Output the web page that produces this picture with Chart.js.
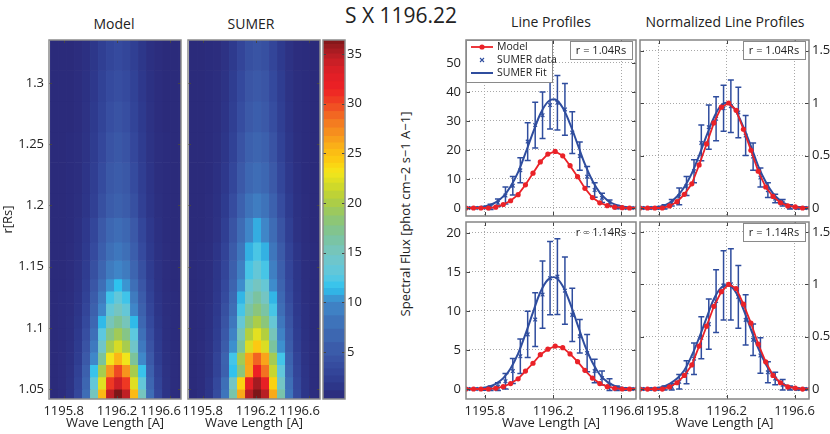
<!DOCTYPE html>
<html><head><meta charset="utf-8">
<script src="https://cdn.jsdelivr.net/npm/chart.js@4.4.0/dist/chart.umd.min.js"></script>
<style>
html,body{margin:0;padding:0;background:#fff;}
body{width:830px;height:434px;position:relative;overflow:hidden;font-family:'Open Sans',sans-serif;color:#222;}
canvas{position:absolute;left:0;top:0;}
.lbl{position:absolute;transform:translate(-50%,-50%);white-space:nowrap;line-height:1;}
</style></head><body>
<div class="lbl" style="left:401px;top:15px;font-size:21px;">S X 1196.22</div>
<div class="lbl" style="left:114px;top:24px;font-size:14px;">Model</div>
<div class="lbl" style="left:251px;top:24px;font-size:14px;">SUMER</div>
<div class="lbl" style="left:551px;top:22px;font-size:14px;">Line Profiles</div>
<div class="lbl" style="left:725px;top:22px;font-size:14px;">Normalized Line Profiles</div>
<div class="lbl" style="left:405px;top:214px;font-size:13px;transform:translate(-50%,-50%) rotate(-90deg);">Spectral Flux [phot cm−2 s−1 A−1]</div>
<canvas id="cModel" width="830" height="434"></canvas>
<canvas id="cSumer" width="830" height="434"></canvas>
<canvas id="cBar" width="830" height="434"></canvas>
<canvas id="cP1" width="830" height="434"></canvas>
<canvas id="cP2" width="830" height="434"></canvas>
<canvas id="cP3" width="830" height="434"></canvas>
<canvas id="cP4" width="830" height="434"></canvas>
<script>
// ---------------- DATA ----------------
const wavelengths = [1195.690,1195.734,1195.777,1195.821,1195.864,1195.908,1195.951,1195.995,1196.038,1196.082,1196.125,1196.169,1196.212,1196.256,1196.299,1196.343,1196.386,1196.430,1196.473,1196.517,1196.560,1196.604,1196.647,1196.691];
const sumerWavelengths = [1195.703,1195.747,1195.790,1195.834,1195.877,1195.921,1195.964,1196.008,1196.051,1196.095,1196.138,1196.182,1196.225,1196.269,1196.312,1196.356,1196.399,1196.443,1196.486,1196.530,1196.573,1196.617,1196.660,1196.704];

// r = 1.04 Rs
const model104 = [0,0,0,0,0.3,1.2,2.5,4.6,8.0,12.0,15.9,18.6,19.5,18.0,14.6,10.8,6.8,3.6,1.8,0.8,0.3,0.1,0,0];
const sumer104 = [0,0,0.1,0.4,1.8,4.3,7.7,13.0,22.9,28.6,32.0,35.5,36.3,34.0,26.0,17.9,10.8,6.2,3.5,1.8,0.3,0,0,0];
const sumerErr104 = [0.2,0.2,0.3,0.9,1.3,2.9,3.2,4.3,6.5,7.9,8.0,8.3,9.4,8.9,7.2,4.9,3.5,2.5,1.6,1.0,0.6,0.3,0.2,0.2];
const fit104 = [0.04,0.13,0.34,0.86,1.95,3.99,7.4,12.4,18.9,26.0,32.4,36.6,37.4,34.6,29.0,22.0,15.1,9.4,5.3,2.7,1.25,0.52,0.2,0.07];

// r = 1.14 Rs
const model114 = [0,0,0,0,0.1,0.3,0.7,1.3,2.3,3.3,4.4,5.1,5.5,5.3,4.5,3.5,2.4,1.4,0.7,0.3,0.1,0,0,0];
const sumer114 = [0,0,0,0.1,0.3,1.0,2.3,4.2,7.0,8.9,12.1,14.2,14.4,12.6,9.5,6.75,4.6,2.3,1.4,0.55,0.1,0,0,0];
const sumerErr114 = [0.1,0.1,0.15,0.3,0.5,1.0,1.6,2.2,2.95,3.45,4.3,4.7,4.85,4.3,3.4,2.15,2.4,1.5,0.9,0.75,0.3,0.15,0.1,0.1];
const fit114 = [0.01,0.04,0.11,0.28,0.66,1.39,2.64,4.54,7.03,9.81,12.4,14.0,14.3,13.2,11.0,8.25,5.57,3.4,1.86,0.92,0.41,0.17,0.06,0.02];

// normalized profiles
const normModel104 = [0,0,0,0,0.02,0.06,0.13,0.23,0.41,0.61,0.81,0.96,1.0,0.93,0.75,0.55,0.35,0.2,0.11,0.05,0.02,0.01,0,0];
const normSumer104 = [0,0,0,0.01,0.05,0.11,0.21,0.35,0.62,0.77,0.85,0.95,0.97,0.91,0.69,0.49,0.29,0.17,0.09,0.05,0.01,0,0,0];
const normErr104 = [0.01,0.01,0.01,0.02,0.03,0.08,0.09,0.11,0.17,0.21,0.21,0.22,0.25,0.24,0.19,0.13,0.09,0.07,0.04,0.03,0.02,0.01,0.01,0.01];
const normFit104 = [0,0,0.01,0.02,0.05,0.11,0.2,0.33,0.5,0.69,0.86,0.98,1.0,0.92,0.77,0.59,0.4,0.25,0.14,0.07,0.03,0.01,0.01,0];
const normModel114 = [0,0,0,0,0.02,0.06,0.13,0.23,0.41,0.6,0.79,0.93,1.0,0.96,0.81,0.63,0.43,0.26,0.13,0.06,0.02,0.01,0,0];
const normSumer114 = [0,0,0,0.01,0.02,0.07,0.16,0.29,0.49,0.62,0.84,0.99,1.0,0.88,0.66,0.47,0.32,0.16,0.1,0.04,0.01,0,0,0];
const normErr114 = [0.01,0.01,0.01,0.02,0.03,0.07,0.11,0.15,0.2,0.24,0.3,0.33,0.34,0.3,0.24,0.15,0.17,0.1,0.06,0.05,0.02,0.01,0.01,0.01];
const normFit114 = [0,0,0.01,0.02,0.05,0.1,0.18,0.32,0.49,0.68,0.86,0.97,0.99,0.92,0.76,0.57,0.39,0.24,0.13,0.06,0.03,0.01,0,0];

// heat maps: cell centres in wavelength, cell edges in r
const heatWl = [1195.73,1195.79,1195.85,1195.91,1195.97,1196.03,1196.09,1196.15,1196.21,1196.27,1196.33,1196.39,1196.45,1196.51,1196.57,1196.63,1196.69];
const heatREdges = [1.04,1.05,1.06,1.07,1.08,1.09,1.10,1.11,1.12,1.13,1.14,1.155,1.17,1.19,1.21,1.235,1.26,1.285,1.31,1.335];
const modelGrid = [
[0.4,0.6,1.3,3.2,7.4,15.0,25.2,34.6,38.4,34.6,25.2,15.0,7.4,3.2,1.3,0.6,0.4],
[0.4,0.6,1.2,2.9,6.6,13.3,22.3,30.5,33.9,30.5,22.3,13.3,6.6,2.9,1.2,0.6,0.4],
[0.4,0.6,1.1,2.6,5.8,11.7,19.7,26.9,29.9,26.9,19.7,11.7,5.8,2.6,1.1,0.6,0.4],
[0.4,0.6,1.0,2.2,5.0,10.0,16.7,22.9,25.4,22.9,16.7,10.0,5.0,2.2,1.0,0.6,0.4],
[0.4,0.5,0.9,2.0,4.3,8.6,14.4,19.7,21.9,19.7,14.4,8.6,4.3,2.0,0.9,0.5,0.4],
[0.4,0.5,0.8,1.8,3.9,7.7,12.8,17.5,19.4,17.5,12.8,7.7,3.9,1.8,0.8,0.5,0.4],
[0.4,0.5,0.8,1.6,3.4,6.7,11.2,15.2,16.9,15.2,11.2,6.7,3.4,1.6,0.8,0.5,0.4],
[0.4,0.5,0.7,1.4,3.0,5.9,9.8,13.4,14.9,13.4,9.8,5.9,3.0,1.4,0.7,0.5,0.4],
[0.4,0.5,0.7,1.3,2.7,5.3,8.7,11.9,13.2,11.9,8.7,5.3,2.7,1.3,0.7,0.5,0.4],
[0.4,0.4,0.6,1.2,2.4,4.6,7.6,10.3,11.4,10.3,7.6,4.6,2.4,1.2,0.6,0.4,0.4],
[0.4,0.4,0.6,1.1,2.1,4.0,6.4,8.7,9.7,8.7,6.4,4.0,2.1,1.1,0.6,0.4,0.4],
[0.4,0.4,0.6,1.0,1.9,3.5,5.6,7.6,8.4,7.6,5.6,3.5,1.9,1.0,0.6,0.4,0.4],
[0.4,0.4,0.5,0.9,1.7,3.1,5.0,6.7,7.4,6.7,5.0,3.1,1.7,0.9,0.5,0.4,0.4],
[0.4,0.4,0.5,0.8,1.4,2.5,4.0,5.3,5.9,5.3,4.0,2.5,1.4,0.8,0.5,0.4,0.4],
[0.4,0.4,0.5,0.7,1.3,2.3,3.6,4.8,5.3,4.8,3.6,2.3,1.3,0.7,0.5,0.4,0.4],
[0.4,0.4,0.5,0.7,1.2,2.1,3.2,4.3,4.8,4.3,3.2,2.1,1.2,0.7,0.5,0.4,0.4],
[0.4,0.4,0.4,0.6,1.1,1.9,2.9,3.9,4.3,3.9,2.9,1.9,1.1,0.6,0.4,0.4,0.4],
[0.4,0.4,0.4,0.6,1.0,1.7,2.7,3.5,3.9,3.5,2.7,1.7,1.0,0.6,0.4,0.4,0.4],
[0.4,0.4,0.4,0.6,0.9,1.6,2.4,3.1,3.5,3.1,2.4,1.6,0.9,0.6,0.4,0.4,0.4]
];
const sumerGrid = [
[0.4,0.7,1.5,3.6,8.2,15.9,25.9,34.8,38.4,34.8,25.9,15.9,8.2,3.6,1.5,0.7,0.4],
[0.4,0.6,1.4,3.3,7.6,14.7,23.9,32.1,35.4,32.1,23.9,14.7,7.6,3.3,1.4,0.6,0.4],
[0.4,0.6,1.2,2.8,6.0,11.5,18.0,26.0,31.4,28.4,21.2,13.1,6.7,3.0,1.3,0.6,0.4],
[0.4,0.6,1.2,2.8,6.2,12.0,19.5,26.2,28.9,26.2,19.5,12.0,6.2,2.8,1.2,0.6,0.4],
[0.4,0.6,1.1,2.4,5.3,10.2,16.5,22.1,24.4,22.1,16.5,10.2,5.3,2.4,1.1,0.6,0.4],
[0.4,0.5,1.0,2.2,4.9,9.4,15.2,20.3,22.4,20.3,15.2,9.4,4.9,2.2,1.0,0.5,0.4],
[0.4,0.5,0.9,2.0,4.4,8.4,13.5,18.0,19.9,18.0,13.5,8.4,4.4,2.0,0.9,0.5,0.4],
[0.4,0.5,0.9,1.8,4.0,7.5,12.1,16.2,17.9,16.2,12.1,7.5,4.0,1.8,0.9,0.5,0.4],
[0.4,0.5,0.8,1.7,3.6,6.9,11.1,14.8,16.4,14.8,11.1,6.9,3.6,1.7,0.8,0.5,0.4],
[0.4,0.5,0.8,1.6,3.3,6.3,10.1,13.5,14.9,13.5,10.1,6.3,3.3,1.6,0.8,0.5,0.4],
[0.4,0.5,0.7,1.5,3.0,5.7,9.1,12.1,13.4,12.1,9.1,5.7,3.0,1.5,0.7,0.5,0.4],
[0.4,0.5,0.7,1.4,2.8,5.2,8.3,11.0,12.2,11.0,8.3,5.2,2.8,1.4,0.7,0.5,0.4],
[0.4,0.4,0.6,1.1,2.4,4.4,7.3,9.8,10.9,9.8,7.3,4.4,2.4,1.1,0.6,0.4,0.4],
[0.4,0.4,0.6,1.0,2.0,3.7,6.0,8.0,8.9,8.0,6.0,3.7,2.0,1.0,0.6,0.4,0.4],
[0.4,0.4,0.5,0.9,1.7,3.1,5.0,6.7,7.4,6.7,5.0,3.1,1.7,0.9,0.5,0.4,0.4],
[0.4,0.4,0.5,0.8,1.5,2.7,4.3,5.8,6.4,5.8,4.3,2.7,1.5,0.8,0.5,0.4,0.4],
[0.4,0.4,0.5,0.7,1.3,2.4,3.8,5.0,5.6,5.0,3.8,2.4,1.3,0.7,0.5,0.4,0.4],
[0.4,0.4,0.5,0.7,1.2,2.2,3.4,4.5,5.0,4.5,3.4,2.2,1.2,0.7,0.5,0.4,0.4],
[0.4,0.4,0.5,0.6,1.1,1.9,3.0,4.0,4.4,4.0,3.0,1.9,1.1,0.6,0.5,0.4,0.4]
];

// tick values
const heatXTicks = [1195.8,1196.2,1196.6];
const heatYTicks = [1.05,1.1,1.15,1.2,1.25,1.3];
const colorbarTicks = [5,10,15,20,25,30,35];
const profXTicks = [1195.8,1196.2,1196.6];
const flux104Ticks = [0,10,20,30,40,50];
const flux114Ticks = [0,5,10,15,20];
const normTicks = [0,0.5,1,1.5];

// colour map (value -> colour)
const colorStops = [
[0.3,'#2b2a7a'],[1.9,'#2e3a8e'],[3.3,'#34489c'],[4.6,'#3a56a6'],[7.3,'#3e6cb5'],[10.0,'#3f88c9'],
[11.4,'#2ec2ee'],[12.7,'#5cc8e0'],[14.7,'#74c5c5'],[16.7,'#7cc39a'],[18.7,'#93c76a'],[20.4,'#b5cf3b'],
[22.0,'#d8dc25'],[23.0,'#f4e61a'],[24.0,'#fcd010'],[25.4,'#fbb616'],[26.7,'#f7981d'],[28.4,'#f37221'],
[30.0,'#ef4623'],[31.4,'#ed2024'],[33.0,'#e01f26'],[34.5,'#c21f26'],[35.5,'#a11b20'],[36.4,'#7d1618']
];

// ---------------- STYLE / HELPERS ----------------
const W = 830, H = 434;
const RED = '#ea2228', BLUE = '#2f4d9e', GRID = '#a8a8a8', FRAME = '#858585';
Chart.defaults.font.family = "'Open Sans', sans-serif";
Chart.defaults.font.size = 13;
Chart.defaults.color = '#222';
Chart.defaults.animation = false;
Chart.defaults.responsive = false;
Chart.defaults.plugins.legend.display = false;
Chart.defaults.plugins.tooltip.enabled = false;

const el = id => document.getElementById(id);
function zeroPad(s){ s.paddingTop = 0; s.paddingBottom = 0; s.paddingLeft = 0; s.paddingRight = 0; }
function setTicks(arr){ return s => { s.ticks = arr.map(v => ({value: v})); }; }
function pad(L,T,R,B,lw,bh,rw){ return {left: L - lw, top: T, right: W - R - rw, bottom: H - B - bh}; }
function hex(c){ return [parseInt(c.slice(1,3),16), parseInt(c.slice(3,5),16), parseInt(c.slice(5,7),16)]; }
function colorAt(v){
  if (v <= colorStops[0][0]) return colorStops[0][1];
  for (let i = 1; i < colorStops.length; i++) {
    if (v <= colorStops[i][0]) {
      const [v0,c0] = colorStops[i-1], [v1,c1] = colorStops[i];
      const t = (v - v0) / (v1 - v0), a = hex(c0), b = hex(c1);
      return 'rgb(' + a.map((q,k) => Math.round(q + (b[k]-q)*t)).join(',') + ')';
    }
  }
  return colorStops[colorStops.length-1][1];
}

const framePlugin = {
  id: 'frame',
  afterDraw(chart, args, o) {
    const {ctx, chartArea: a} = chart;
    ctx.save();
    const tl = o.tick || 4;
    ctx.strokeStyle = o.tickColor || '#444';
    ctx.lineWidth = 1;
    ctx.beginPath();
    if (o.xTicks) chart.scales.x.ticks.forEach(t => {
      const px = Math.round(chart.scales.x.getPixelForValue(t.value)) + 0.5;
      ctx.moveTo(px, a.bottom); ctx.lineTo(px, a.bottom - tl);
      ctx.moveTo(px, a.top); ctx.lineTo(px, a.top + tl);
    });
    if (o.yTicks) chart.scales.y.ticks.forEach(t => {
      const py = Math.round(chart.scales.y.getPixelForValue(t.value)) + 0.5;
      ctx.moveTo(a.left, py); ctx.lineTo(a.left + tl, py);
      ctx.moveTo(a.right, py); ctx.lineTo(a.right - tl, py);
    });
    ctx.stroke();
    ctx.strokeStyle = o.color || FRAME;
    ctx.lineWidth = o.width || 1.5;
    ctx.strokeRect(a.left, a.top, a.right - a.left, a.bottom - a.top);
    ctx.restore();
  }
};

const heatPlugin = {
  id: 'heat',
  beforeDatasetsDraw(chart) {
    const {ctx, chartArea: a, scales: {x, y}} = chart;
    const half = (heatWl[1] - heatWl[0]) / 2;
    ctx.save();
    ctx.beginPath(); ctx.rect(a.left, a.top, a.right - a.left, a.bottom - a.top); ctx.clip();
    chart.data.datasets[0].data.forEach(p => {
      const x0 = x.getPixelForValue(p.x - half), x1 = x.getPixelForValue(p.x + half);
      const y0 = y.getPixelForValue(heatREdges[p.ri + 1]), y1 = y.getPixelForValue(heatREdges[p.ri]);
      ctx.fillStyle = colorAt(p.v);
      ctx.fillRect(x0 - 0.3, y0 - 0.3, x1 - x0 + 0.6, y1 - y0 + 0.6);
    });
    ctx.restore();
  }
};

const errPlugin = {
  id: 'errbars',
  beforeDatasetsDraw(chart) {
    const {ctx, chartArea: a, scales: {x, y}} = chart;
    ctx.save();
    ctx.beginPath(); ctx.rect(a.left, a.top, a.right - a.left, a.bottom - a.top); ctx.clip();
    ctx.strokeStyle = BLUE; ctx.lineWidth = 1.5;
    chart.data.datasets.forEach(ds => {
      if (!ds.errors) return;
      ctx.beginPath();
      ds.data.forEach((p, i) => {
        const e = ds.errors[i], px = x.getPixelForValue(p.x);
        const y0 = y.getPixelForValue(p.y - e), y1 = y.getPixelForValue(p.y + e);
        ctx.moveTo(px, y0); ctx.lineTo(px, y1);
        ctx.moveTo(px - 3, y0); ctx.lineTo(px + 3, y0);
        ctx.moveTo(px - 3, y1); ctx.lineTo(px + 3, y1);
      });
      ctx.stroke();
    });
    ctx.restore();
  }
};

const annotPlugin = {
  id: 'annot',
  afterDraw(chart, args, o) {
    const {ctx, chartArea: a} = chart;
    ctx.save();
    if (o.rText) {
      const bw = 62, bh = 18, bx = a.right - 4 - bw, by = a.top + 1;
      if (o.box) {
        ctx.fillStyle = '#fff'; ctx.fillRect(bx, by, bw, bh);
        ctx.strokeStyle = '#8a8a8a'; ctx.lineWidth = 1; ctx.strokeRect(bx + 0.5, by + 0.5, bw, bh);
      }
      ctx.font = "11px 'Open Sans', sans-serif";
      ctx.fillStyle = '#222'; ctx.textAlign = 'center'; ctx.textBaseline = 'middle';
      ctx.fillText(o.rText, bx + bw / 2, by + bh / 2 + 0.5);
    }
    if (o.legend) {
      const lx = a.left, ly = a.top, lw = 86, lh = 42;
      ctx.fillStyle = '#fff'; ctx.fillRect(lx, ly, lw, lh);
      ctx.strokeStyle = '#8a8a8a'; ctx.lineWidth = 1; ctx.strokeRect(lx + 0.5, ly + 0.5, lw, lh);
      ctx.font = "10.5px 'Open Sans', sans-serif";
      ctx.textAlign = 'left'; ctx.textBaseline = 'middle';
      const rows = [[ly + 7, 'Model'], [ly + 20, 'SUMER data'], [ly + 33, 'SUMER Fit']];
      ctx.strokeStyle = RED; ctx.lineWidth = 1.8;
      ctx.beginPath(); ctx.moveTo(lx + 5, rows[0][0]); ctx.lineTo(lx + 27, rows[0][0]); ctx.stroke();
      ctx.fillStyle = RED; ctx.beginPath(); ctx.arc(lx + 16, rows[0][0], 2.6, 0, Math.PI * 2); ctx.fill();
      ctx.strokeStyle = BLUE; ctx.lineWidth = 1.1; ctx.beginPath();
      ctx.moveTo(lx + 14, rows[1][0] - 2); ctx.lineTo(lx + 18, rows[1][0] + 2);
      ctx.moveTo(lx + 18, rows[1][0] - 2); ctx.lineTo(lx + 14, rows[1][0] + 2); ctx.stroke();
      ctx.lineWidth = 2; ctx.beginPath(); ctx.moveTo(lx + 5, rows[2][0]); ctx.lineTo(lx + 27, rows[2][0]); ctx.stroke();
      ctx.fillStyle = '#222';
      rows.forEach(r => ctx.fillText(r[1], lx + 31, r[0] + 0.5));
    }
    ctx.restore();
  }
};

// ---------------- HEAT MAPS ----------------
function heatmap(id, L, R, grid, showY) {
  const pts = [];
  grid.forEach((row, ri) => row.forEach((v, ci) => pts.push({x: heatWl[ci], y: (heatREdges[ri] + heatREdges[ri + 1]) / 2, v: v, ri: ri})));
  const lw = showY ? L : 0, bh = 35;
  new Chart(el(id), {
    type: 'scatter',
    data: {datasets: [{data: pts, pointRadius: 0, pointHoverRadius: 0, pointHitRadius: 0}]},
    options: {
      events: [],
      layout: {padding: pad(L, 40, R, 399, lw, bh, 0)},
      scales: {
        x: {type: 'linear', min: 1195.69, max: 1196.68, afterBuildTicks: setTicks(heatXTicks),
            ticks: {padding: 4, maxRotation: 0, autoSkip: false,
                    callback: v => v === 1196.6 ? '1196.6\u2002\u2002\u2002' : v.toFixed(1)},
            grid: {display: false, drawTicks: false}, border: {display: false},
            title: {display: true, text: 'Wave Length [A]', padding: {top: 0, bottom: 3}},
            afterFit: s => { s.height = bh; zeroPad(s); }},
        y: {type: 'linear', min: 1.042, max: 1.335, afterBuildTicks: setTicks(heatYTicks),
            ticks: {display: showY, padding: 5, autoSkip: false, callback: v => String(+v.toFixed(2))},
            grid: {display: false, drawTicks: false}, border: {display: false},
            title: {display: showY, text: 'r[Rs]', padding: {top: 0, bottom: 0}},
            afterFit: s => { s.width = lw; zeroPad(s); }}
      },
      plugins: {frame: {xTicks: true, yTicks: true, tick: 3, color: '#8c8c8c', width: 1.5}}
    },
    plugins: [heatPlugin, framePlugin]
  });
}
heatmap('cModel', 49, 181, modelGrid, true);
heatmap('cSumer', 188, 320, sumerGrid, false);

// ---------------- COLOUR BAR ----------------
const bands = [];
for (let i = 0; i < colorStops.length - 1; i++) {
  const v0 = colorStops[i][0], v1 = colorStops[i + 1][0], m = (v0 + v1) / 2;
  bands.push({lo: v0, hi: m, c: colorAt((v0 + m) / 2)});
  bands.push({lo: m, hi: v1, c: colorAt((m + v1) / 2)});
}
new Chart(el('cBar'), {
  type: 'bar',
  data: {labels: ['cb'], datasets: bands.map(b => ({data: [[b.lo, b.hi]], backgroundColor: b.c, grouped: false,
        barPercentage: 1, categoryPercentage: 1, borderWidth: 0, borderSkipped: false, inflateAmount: 0.4}))},
  options: {
    events: [],
    layout: {padding: pad(323, 40, 345, 399, 0, 0, 30)},
    scales: {
      x: {display: true, ticks: {display: false}, grid: {display: false, drawTicks: false}, border: {display: false},
          afterFit: s => { s.height = 0; zeroPad(s); }},
      y: {type: 'linear', position: 'right', min: 0.27, max: 36.4, afterBuildTicks: setTicks(colorbarTicks),
          ticks: {padding: 2, autoSkip: false}, grid: {display: false, drawTicks: false}, border: {display: false},
          afterFit: s => { s.width = 30; zeroPad(s); }}
    },
    plugins: {frame: {xTicks: false, yTicks: true, tick: 3, color: '#8c8c8c', width: 1.5}}
  },
  plugins: [framePlugin]
});

// ---------------- LINE PROFILES ----------------
function profile(id, r, o) {
  const lw = o.leftAxis ? 40 : 0, rw = o.leftAxis ? 0 : 21, bh = o.showX ? 35 : 0;
  new Chart(el(id), {
    type: 'scatter',
    data: {datasets: [
      {label: 'Model', data: wavelengths.map((x, i) => ({x: x, y: o.model[i]})), showLine: true,
       borderColor: RED, backgroundColor: RED, borderWidth: 1.8, pointRadius: 2.6, pointBorderWidth: 0},
      {label: 'SUMER Fit', data: wavelengths.map((x, i) => ({x: x, y: o.fit[i]})), showLine: true,
       borderColor: BLUE, borderWidth: 2, pointRadius: 0, tension: 0.35},
      {label: 'SUMER data', data: sumerWavelengths.map((x, i) => ({x: x, y: o.data[i]})), errors: o.err,
       showLine: false, pointStyle: 'crossRot', pointRadius: 2.6, borderColor: BLUE, backgroundColor: BLUE, borderWidth: 1.2}
    ]},
    options: {
      events: [],
      layout: {padding: pad(r[0], r[1], r[2], r[3], lw, bh, rw)},
      scales: {
        x: {type: 'linear', min: 1195.69, max: 1196.685, afterBuildTicks: setTicks(profXTicks),
            ticks: {display: o.showX, padding: 4, maxRotation: 0, autoSkip: false, callback: v => v.toFixed(1)},
            grid: {color: GRID, lineWidth: 1, drawTicks: false}, border: {display: false, dash: [1, 2]},
            title: {display: o.showX, text: 'Wave Length [A]', padding: {top: 0, bottom: 3}},
            afterFit: s => { s.height = bh; zeroPad(s); }},
        y: {type: 'linear', position: o.leftAxis ? 'left' : 'right', min: o.ymin, max: o.ymax, afterBuildTicks: setTicks(o.yTicks),
            ticks: {padding: o.leftAxis ? 5 : 3, autoSkip: false, callback: v => String(v)},
            grid: {color: GRID, lineWidth: 1, drawTicks: false}, border: {display: false, dash: [1, 2]},
            afterFit: s => { s.width = o.leftAxis ? lw : rw; zeroPad(s); }}
      },
      plugins: {frame: {xTicks: true, yTicks: true, tick: 4, color: FRAME, width: 1.5},
                annot: {rText: o.rText, box: o.box, legend: o.legend}}
    },
    plugins: [errPlugin, framePlugin, annotPlugin]
  });
}
profile('cP1', [466, 40, 636, 216], {leftAxis: true, showX: false, model: model104, fit: fit104, data: sumer104, err: sumerErr104,
  ymin: -2.76, ymax: 57.93, yTicks: flux104Ticks, rText: 'r = 1.04Rs', box: true, legend: true});
profile('cP2', [640, 40, 809, 216], {leftAxis: false, showX: false, model: normModel104, fit: normFit104, data: normSumer104, err: normErr104,
  ymin: -0.076, ymax: 1.6, yTicks: normTicks, rText: 'r = 1.04Rs', box: true, legend: false});
profile('cP3', [466, 222, 636, 399], {leftAxis: true, showX: true, model: model114, fit: fit114, data: sumer114, err: sumerErr114,
  ymin: -1.28, ymax: 21.4, yTicks: flux114Ticks, rText: 'r = 1.14Rs', box: false, legend: false});
profile('cP4', [640, 222, 809, 399], {leftAxis: false, showX: true, model: normModel114, fit: normFit114, data: normSumer114, err: normErr114,
  ymin: -0.095, ymax: 1.595, yTicks: normTicks, rText: 'r = 1.14Rs', box: true, legend: false});
</script>
</body></html>
